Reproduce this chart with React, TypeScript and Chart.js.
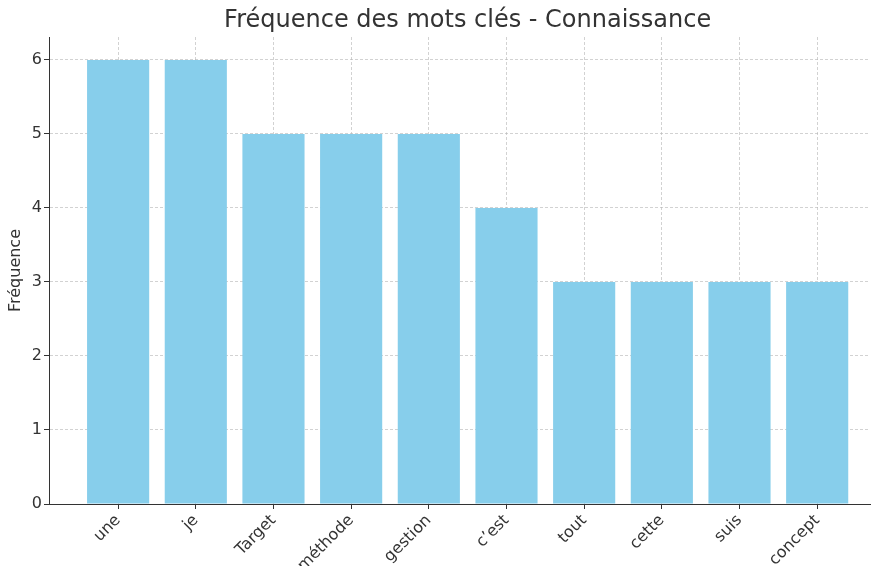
import React, { useEffect, useRef } from "react";
import { Chart, registerables } from "chart.js";

Chart.register(...registerables);

const TITLE = "Fréquence des mots clés - Connaissance";
const Y_LABEL = "Fréquence";
const WORDS = ["une", "je", "Target", "méthode", "gestion", "c’est", "tout", "cette", "suis", "concept"];
const COUNTS = [6, 6, 5, 5, 5, 4, 3, 3, 3, 3];
const Y_TICKS = [0, 1, 2, 3, 4, 5, 6];
const Y_MAX = 6.31;
const X_MIN = -0.89;
const X_MAX = 9.68;
const X_FULL_MAX = 9.89;

const FONT = "'DejaVu Sans', sans-serif";
const TEXT = "#333333";
const GRID = "rgba(180,180,180,0.6)";

const titlePlugin = {
  id: "axesTitle",
  afterDraw(chart: any) {
    const { ctx, scales } = chart;
    const x = scales.x.getPixelForValue((X_MIN + X_FULL_MAX) / 2);
    ctx.save();
    ctx.fillStyle = TEXT;
    ctx.font = `normal 24px ${FONT}`;
    ctx.textAlign = "center";
    ctx.textBaseline = "middle";
    ctx.fillText(TITLE, x, 21);
    ctx.restore();
  },
};

export default function App() {
  const ref = useRef<HTMLCanvasElement | null>(null);

  useEffect(() => {
    document.body.style.margin = "0";
    const canvas = ref.current;
    if (!canvas) return;
    const chart = new Chart(canvas, {
      type: "bar",
      data: {
        datasets: [
          {
            data: WORDS.map((_, i) => ({ x: i, y: COUNTS[i] })),
            backgroundColor: "#87CEEB",
            borderWidth: 0,
            barPercentage: 0.8,
            categoryPercentage: 1.0,
          },
        ],
      },
      options: {
        animation: false,
        responsive: false,
        maintainAspectRatio: false,
        layout: { padding: { left: 0, right: 2, top: 37, bottom: 0 } },
        plugins: {
          legend: { display: false },
          tooltip: { enabled: false },
          title: { display: false },
        },
        scales: {
          x: {
            type: "linear",
            min: X_MIN,
            max: X_MAX,
            offset: false,
            z: 1,
            afterBuildTicks: (scale: any) => {
              scale.ticks = WORDS.map((_, i) => ({ value: i }));
            },
            afterFit: (scale: any) => {
              scale.height = 62;
            },
            ticks: {
              autoSkip: false,
              maxRotation: 45,
              minRotation: 45,
              color: TEXT,
              padding: 2,
              font: { family: FONT, size: 16 },
              callback: (v: any) => WORDS[Math.round(Number(v))] ?? "",
            },
            grid: {
              offset: false,
              color: GRID,
              lineWidth: 1,
              drawTicks: true,
              tickLength: 5,
              tickColor: TEXT,
              tickWidth: 1,
            },
            border: { display: true, color: TEXT, width: 1, dash: [3, 2] },
          },
          y: {
            type: "linear",
            min: 0,
            max: Y_MAX,
            z: 1,
            afterBuildTicks: (scale: any) => {
              scale.ticks = Y_TICKS.map((v) => ({ value: v }));
            },
            afterFit: (scale: any) => {
              scale.width = 49;
            },
            ticks: {
              color: TEXT,
              padding: 2,
              font: { family: FONT, size: 16 },
            },
            grid: {
              color: GRID,
              lineWidth: 1,
              drawTicks: true,
              tickLength: 5,
              tickColor: TEXT,
              tickWidth: 1,
            },
            border: { display: true, color: TEXT, width: 1, dash: [3, 2] },
            title: {
              display: true,
              text: Y_LABEL,
              color: TEXT,
              font: { family: FONT, size: 16, lineHeight: 1.2 },
              padding: { top: 6, bottom: 0 },
            },
          },
        },
      },
      plugins: [titlePlugin],
    } as any);
    return () => chart.destroy();
  }, []);

  return (
    <div style={{ position: "absolute", left: 0, top: 0, width: 872, height: 566 }}>
      <canvas ref={ref} width={872} height={566} style={{ width: 872, height: 566 }} />
    </div>
  );
}
